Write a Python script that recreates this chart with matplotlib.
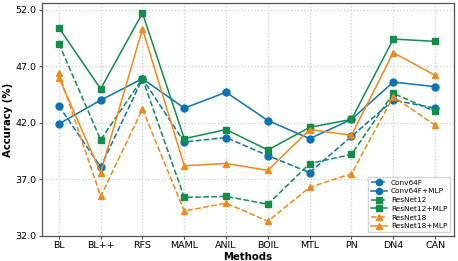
import matplotlib
matplotlib.use("Agg")
import matplotlib.pyplot as plt

methods = ["BL", "BL++", "RFS", "MAML", "ANIL", "BOIL", "MTL", "PN", "DN4", "CAN"]
conv64f = [43.5, 38.1, 45.9, 40.3, 40.7, 39.1, 37.6, 40.8, 44.0, 43.3]
conv64f_mlp = [41.9, 44.0, 45.9, 43.3, 44.7, 42.2, 40.6, 42.3, 45.6, 45.2]
resnet12 = [49.0, 40.5, 45.9, 35.4, 35.5, 34.8, 38.4, 39.2, 44.6, 43.0]
resnet12_mlp = [50.4, 45.0, 51.7, 40.6, 41.4, 39.6, 41.6, 42.3, 49.4, 49.2]
resnet18 = [46.4, 35.5, 43.2, 34.2, 34.9, 33.3, 36.3, 37.5, 44.3, 41.8]
resnet18_mlp = [46.0, 37.6, 50.3, 38.2, 38.4, 37.8, 41.4, 40.9, 48.2, 46.2]
yticks = [32.0, 37.0, 42.0, 47.0, 52.0]

blue, orange, green = "#0b72b5", "#ee8a1a", "#128d4a"

fig = plt.figure(figsize=(4.58, 2.61), dpi=100)
ax = fig.add_axes([0.092, 0.096, 0.899, 0.893])
x = list(range(len(methods)))
ms = 5
lw = 1.1
series = [
    ("Conv64F", conv64f, blue, "o", "--"),
    ("Conv64F+MLP", conv64f_mlp, blue, "o", "-"),
    ("ResNet12", resnet12, green, "s", "--"),
    ("ResNet12+MLP", resnet12_mlp, green, "s", "-"),
    ("ResNet18", resnet18, orange, "^", "--"),
    ("ResNet18+MLP", resnet18_mlp, orange, "^", "-"),
]
for label, vals, c, m, ls in series:
    ax.plot(x, vals, color=c, marker=m, linestyle=ls, linewidth=lw, markersize=ms, label=label)

ax.set_xticks(x)
ax.set_xticklabels(methods)
ax.set_yticks(yticks)
ax.set_yticklabels([f"{v:.1f}" for v in yticks])
ax.set_xlim(-0.4, 9.45)
ax.set_ylim(32, 52.6)
ax.grid(True, linestyle=":", color="#cccccc", linewidth=0.9)
ax.tick_params(labelsize=6.8, length=2, pad=2, color="#555555")
for s in ax.spines.values():
    s.set_color("#555555")
    s.set_linewidth(0.9)
ax.set_xlabel("Methods", fontsize=7.3, fontweight="bold", labelpad=1)
ax.set_ylabel("Accuracy (%)", fontsize=7.3, fontweight="bold", labelpad=2)
ax.legend(loc="lower right", fontsize=5.3, frameon=True, handlelength=2.2,
          labelspacing=0.35, borderpad=0.4, handletextpad=0.5, markerscale=0.9,
          fancybox=False, edgecolor="#cccccc")
fig.savefig("out.png", dpi=100)
